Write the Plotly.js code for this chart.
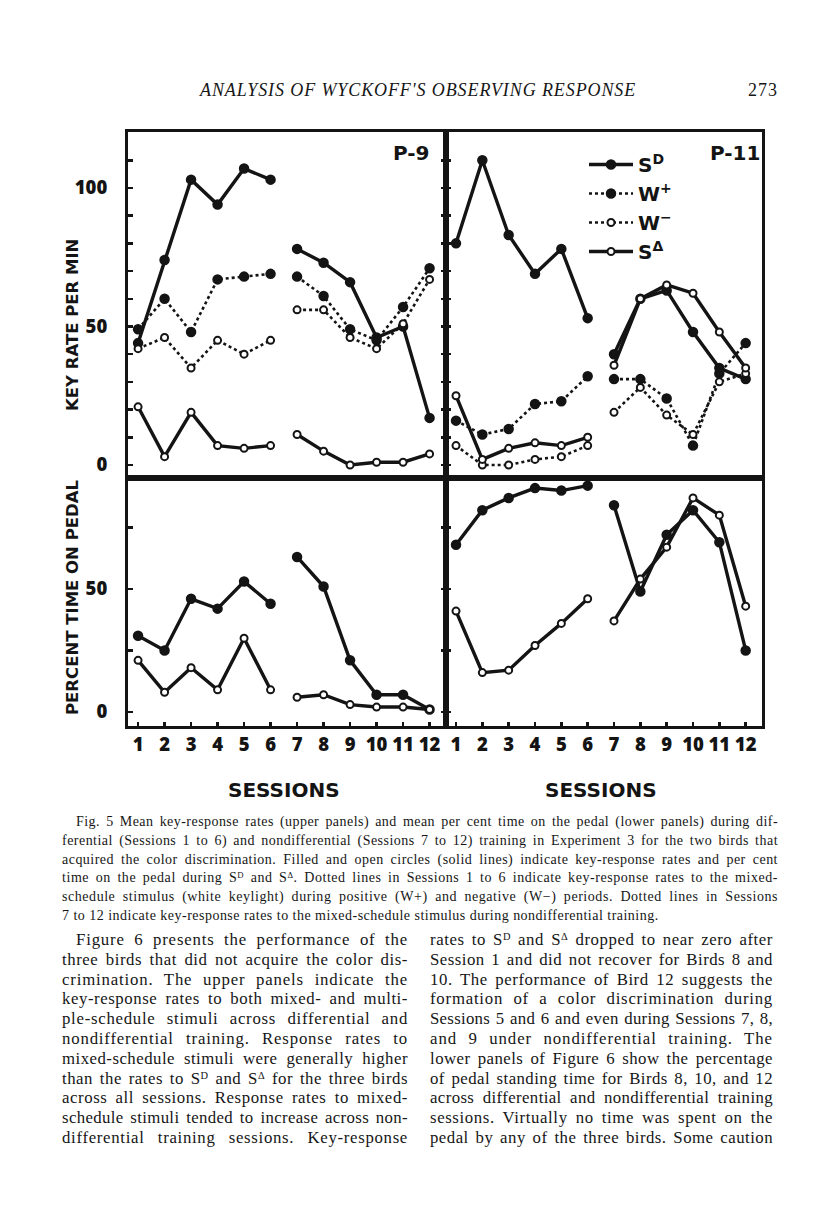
<!DOCTYPE html>
<html>
<head>
<meta charset="utf-8">
<script src="https://cdn.plot.ly/plotly-3.0.1.min.js"></script>
<style>
  body { margin:0; background:#fff; width:816px; height:1207px; position:relative; overflow:hidden; }
  #fig { position:absolute; left:0; top:0; width:816px; height:830px; z-index:1; }
  #text, #head { position:absolute; left:0; top:0; z-index:2; }
  .ln { position:absolute; font-family:'Liberation Serif', serif; color:#161616; white-space:nowrap;
        text-align:justify; text-align-last:justify; }
  .ln.end { text-align-last:left; text-align:left; }
  sup { font-size:0.62em; line-height:0; vertical-align:0.5em; }
</style>
</head>
<body>
<div id="fig"></div>
<div id="head"></div>
<div id="text"></div>
<script>
// sessions 1-6 differential, 7-12 nondifferential
var sessions = [1, 2, 3, 4, 5, 6, 7, 8, 9, 10, 11, 12];
var sessionLabels = ['1', '2', '3', '4', '5', '6', '7', '8', '9', '10', '11', '12'];

// key rate per min, bird P-9
var p9KeySD = [44, 74, 103, 94, 107, 103, 78, 73, 66, 46, 50, 17];
var p9KeyWp = [49, 60, 48, 67, 68, 69, 68, 61, 49, 45, 57, 71];
var p9KeyWm = [42, 46, 35, 45, 40, 45, 56, 56, 46, 42, 51, 67];
var p9KeySA = [21, 3, 19, 7, 6, 7, 11, 5, 0, 1, 1, 4];

// key rate per min, bird P-11
var p11KeySD = [80, 110, 83, 69, 78, 53, 40, 60, 63, 48, 35, 31];
var p11KeyWp = [16, 11, 13, 22, 23, 32, 31, 31, 24, 7, 33, 44];
var p11KeyWm = [7, 0, 0, 2, 3, 7, 19, 28, 18, 11, 30, 33];
var p11KeySA = [25, 2, 6, 8, 7, 10, 36, 60, 65, 62, 48, 35];

// percent time on pedal
var p9PedSD = [31, 25, 46, 42, 53, 44, 63, 51, 21, 7, 7, 1];
var p9PedSA = [21, 8, 18, 9, 30, 9, 6, 7, 3, 2, 2, 1];
var p11PedSD = [68, 82, 87, 91, 90, 92, 84, 49, 72, 82, 69, 25];
var p11PedSA = [41, 16, 17, 27, 36, 46, 37, 54, 67, 87, 80, 43];

var ink = '#141414';
var styles = {
  SD: {dash: 'solid', fill: ink, name: 'S<sup>D</sup>'},
  Wp: {dash: 'dot', fill: ink, name: 'W<sup>+</sup>'},
  Wm: {dash: 'dot', fill: 'white', name: 'W<sup>−</sup>'},
  SA: {dash: 'solid', fill: 'white', name: 'S<sup>Δ</sup>'}
};

var traces = [];
function addSeries(vals, key, xa, ya, legend) {
  var st = styles[key];
  // two separate runs: sessions 1-6 and 7-12 are not joined
  [[0, 6], [6, 12]].forEach(function (r, k) {
    traces.push({
      x: sessions.slice(r[0], r[1]),
      y: vals.slice(r[0], r[1]),
      xaxis: xa, yaxis: ya,
      type: 'scatter', mode: 'lines+markers',
      name: st.name, legendgroup: key,
      showlegend: legend && k === 0,
      line: {color: ink, width: st.dash === 'solid' ? 3.4 : 2.6, dash: st.dash},
      marker: {size: st.fill === 'white' ? 7 : 8.5, color: st.fill, line: {color: ink, width: 2}},
      hoverinfo: 'skip'
    });
  });
}

addSeries(p11KeySD, 'SD', 'x2', 'y2', true);
addSeries(p11KeyWp, 'Wp', 'x2', 'y2', true);
addSeries(p11KeyWm, 'Wm', 'x2', 'y2', true);
addSeries(p11KeySA, 'SA', 'x2', 'y2', true);
addSeries(p9KeySD, 'SD', 'x', 'y', false);
addSeries(p9KeyWp, 'Wp', 'x', 'y', false);
addSeries(p9KeyWm, 'Wm', 'x', 'y', false);
addSeries(p9KeySA, 'SA', 'x', 'y', false);
addSeries(p9PedSD, 'SD', 'x3', 'y3', false);
addSeries(p9PedSA, 'SA', 'x3', 'y3', false);
addSeries(p11PedSD, 'SD', 'x4', 'y4', false);
addSeries(p11PedSA, 'SA', 'x4', 'y4', false);

var W = 816, H = 830;
var tickFont = {family: 'Open Sans, DejaVu Sans', size: 18.5, weight: 800, color: ink};
var frame = {showline: true, linecolor: ink, linewidth: 3, mirror: true, zeroline: false, showgrid: false, fixedrange: true};

function xAxis(dom, anchor, labels) {
  return Object.assign({}, frame, {
    domain: dom, anchor: anchor, range: [0.62, 12.62],
    tickmode: 'array', tickvals: sessions, ticktext: sessionLabels,
    ticks: labels ? 'inside' : '', ticklen: 4, tickwidth: 2.5, tickcolor: ink,
    showticklabels: labels, tickfont: tickFont, ticklabelstandoff: 0
  });
}
function yAxis(dom, anchor, range, minorStep, left) {
  return Object.assign({}, frame, {
    domain: dom, anchor: anchor, range: range,
    tick0: 0, dtick: 50, ticks: 'inside', ticklen: 5, tickwidth: 2.5, tickcolor: ink,
    minor: {tick0: 0, dtick: minorStep, ticks: 'inside', ticklen: 5, tickwidth: 2.5, tickcolor: ink},
    mirror: left ? 'ticks' : true,
    showticklabels: left, tickfont: tickFont, ticklabelstandoff: 14
  });
}

var xL = [128 / W, 446 / W], xR = [446 / W, 762 / W];
var yU = [1 - 478 / H, 1 - 132 / H], yD = [1 - 726 / H, 1 - 478 / H];

var annFont = {family: 'DejaVu Sans', size: 20, weight: 'bold', color: ink};
var labFont = {family: 'DejaVu Sans', size: 16.5, weight: 'bold', color: ink};

var layout = {
  width: W, height: H,
  margin: {l: 0, r: 0, t: 0, b: 0},
  paper_bgcolor: 'rgba(0,0,0,0)', plot_bgcolor: 'rgba(0,0,0,0)',
  showlegend: true,
  legend: {
    x: 584 / W, y: 1 - 145 / H, xanchor: 'left', yanchor: 'top',
    bgcolor: 'rgba(0,0,0,0)', font: annFont, itemwidth: 44, tracegroupgap: 0,
    itemclick: false, itemdoubleclick: false
  },
  xaxis: xAxis(xL, 'y', false),
  xaxis2: xAxis(xR, 'y2', false),
  xaxis3: xAxis(xL, 'y3', true),
  xaxis4: xAxis(xR, 'y4', true),
  yaxis: yAxis(yU, 'x', [-4.7, 120.2], 10, true),
  yaxis2: yAxis(yU, 'x2', [-4.7, 120.2], 10, false),
  yaxis3: yAxis(yD, 'x3', [-5.7, 95.1], 25, true),
  yaxis4: yAxis(yD, 'x4', [-5.7, 95.1], 25, false),
  annotations: [
    {text: 'P-9', x: 411 / W, y: 1 - 153 / H, font: annFont},
    {text: 'P-11', x: 735 / W, y: 1 - 153 / H, font: annFont},
    {text: 'SESSIONS', x: 284 / W, y: 1 - 790 / H, font: annFont},
    {text: 'SESSIONS', x: 601 / W, y: 1 - 790 / H, font: annFont},
    {text: 'KEY RATE PER MIN', x: 72 / W, y: 1 - 325 / H, textangle: -90, font: labFont},
    {text: 'PERCENT TIME ON PEDAL', x: 72 / W, y: 1 - 598 / H, textangle: -90, font: labFont}
  ].map(function (a) {
    return Object.assign({xref: 'paper', yref: 'paper', showarrow: false, xanchor: 'center', yanchor: 'middle'}, a);
  })
};

Plotly.newPlot('fig', traces, layout, {displayModeBar: false, staticPlot: true});

// page text, one line per row so breaks match the printed page
var SD = 'S<sup>D</sup>', SA = 'S<sup>Δ</sup>';
var header = ['<i>ANALYSIS OF WYCKOFF\'S OBSERVING RESPONSE</i>'];
var pageNo = ['273'];
var caption = [
  'Fig. 5 Mean key-response rates (upper panels) and mean per cent time on the pedal (lower panels) during dif-',
  'ferential (Sessions 1 to 6) and nondifferential (Sessions 7 to 12) training in Experiment 3 for the two birds that',
  'acquired the color discrimination. Filled and open circles (solid lines) indicate key-response rates and per cent',
  'time on the pedal during ' + SD + ' and ' + SA + '. Dotted lines in Sessions 1 to 6 indicate key-response rates to the mixed-',
  'schedule stimulus (white keylight) during positive (W+) and negative (W−) periods. Dotted lines in Sessions',
  '7 to 12 indicate key-response rates to the mixed-schedule stimulus during nondifferential training.'
];
var leftCol = [
  'Figure 6 presents the performance of the',
  'three birds that did not acquire the color dis-',
  'crimination. The upper panels indicate the',
  'key-response rates to both mixed- and multi-',
  'ple-schedule stimuli across differential and',
  'nondifferential training. Response rates to',
  'mixed-schedule stimuli were generally higher',
  'than the rates to ' + SD + ' and ' + SA + ' for the three birds',
  'across all sessions. Response rates to mixed-',
  'schedule stimuli tended to increase across non-',
  'differential training sessions. Key-response'
];
var rightCol = [
  'rates to ' + SD + ' and ' + SA + ' dropped to near zero after',
  'Session 1 and did not recover for Birds 8 and',
  '10. The performance of Bird 12 suggests the',
  'formation of a color discrimination during',
  'Sessions 5 and 6 and even during Sessions 7, 8,',
  'and 9 under nondifferential training. The',
  'lower panels of Figure 6 show the percentage',
  'of pedal standing time for Birds 8, 10, and 12',
  'across differential and nondifferential training',
  'sessions. Virtually no time was spent on the',
  'pedal by any of the three birds. Some caution'
];

// the printed face is wider than Liberation Serif: widen words with letter spacing,
// then justify what is left over
function placeLines(host, lines, o) {
  var box = document.getElementById(host);
  var made = [];
  lines.forEach(function (t, i) {
    var d = document.createElement('div');
    var l = o.left + (i === 0 ? (o.indent || 0) : 0);
    d.className = 'ln end';
    d.style.left = l + 'px';
    d.style.width = (o.right - l) + 'px';
    d.style.top = (o.top + i * o.lh) + 'px';
    d.style.fontSize = o.size + 'px';
    d.style.lineHeight = o.lh + 'px';
    if (o.weight) d.style.fontWeight = o.weight;
    d.innerHTML = '<span>' + t + '</span>';
    box.appendChild(d);
    var span = d.firstChild;
    var n = span.textContent.length;
    var ls = (o.right - l - span.getBoundingClientRect().width) / n * (o.share || 0.55);
    made.push({d: d, ls: ls, last: o.lastEnds && i === lines.length - 1});
  });
  var usual = made.filter(function (m) { return !m.last; }).map(function (m) { return m.ls; });
  usual.sort(function (a, b) { return a - b; });
  var mid = usual.length ? usual[Math.floor(usual.length / 2)] : 0;
  made.forEach(function (m) {
    var ls = m.last ? mid : Math.max(-0.6, Math.min(o.maxLs, m.ls));
    m.d.style.letterSpacing = ls.toFixed(2) + 'px';
    if (!m.last && !o.noJustify) m.d.className = 'ln';
  });
}
placeLines('head', header, {left: 200, right: 636, top: 79, lh: 22, size: 18, share: 1, maxLs: 3, noJustify: true});
placeLines('head', pageNo, {left: 748, right: 778, top: 79, lh: 22, size: 18, share: 1, maxLs: 2, noJustify: true});
placeLines('text', caption, {left: 62, right: 778, top: 813, lh: 18.8, size: 14, indent: 14, lastEnds: true, maxLs: 1.2});
placeLines('text', leftCol, {left: 62, right: 408, top: 930, lh: 19.8, size: 16.8, indent: 14, maxLs: 1.2});
placeLines('text', rightCol, {left: 430, right: 773, top: 930, lh: 19.8, size: 16.8, maxLs: 1.2});
</script>
</body>
</html>
